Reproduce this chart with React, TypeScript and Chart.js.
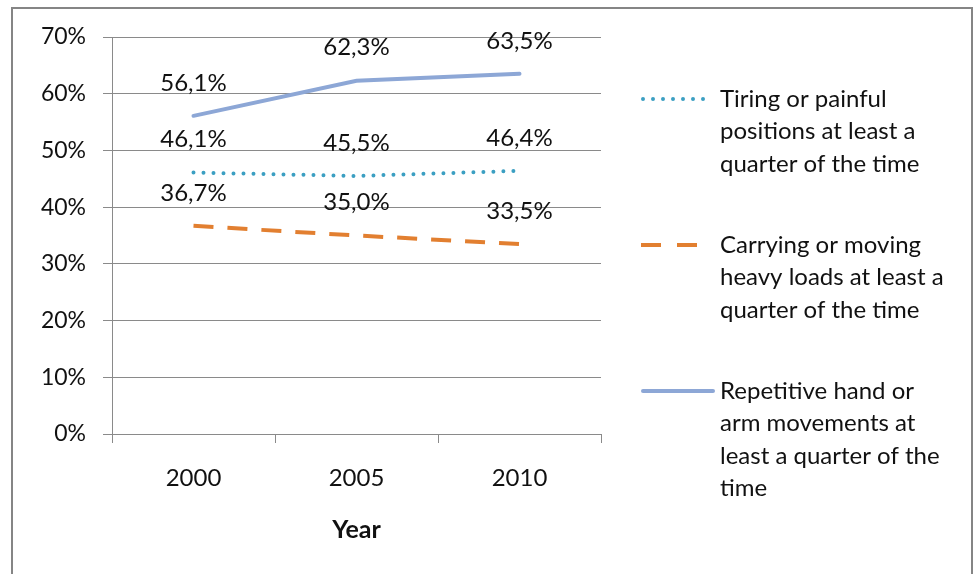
import React, { useEffect, useRef } from "react";
import { Chart, registerables } from "chart.js";

Chart.register(...registerables);

const years = ["2000", "2005", "2010"];
const tiring = [46.1, 45.5, 46.4];
const carrying = [36.7, 35.0, 33.5];
const repetitive = [56.1, 62.3, 63.5];
const yTicks = [0, 10, 20, 30, 40, 50, 60, 70];

const labelsTiring = ["Tiring or painful", "positions at least a", "quarter of the time"];
const labelsCarrying = ["Carrying or moving", "heavy loads at least a", "quarter of the time"];
const labelsRepetitive = ["Repetitive hand or", "arm movements at", "least a quarter of the", "time"];

const FONT = "Lato, 'Open Sans', sans-serif";
const TEAL = "#3b9fc2";
const ORANGE = "#e27f30";
const BLUE = "#8da7d6";
const GRID = "#8a8a8a";

const fmt = (v: number) => v.toFixed(1).replace(".", ",") + "%";

export default function App() {
  const ref = useRef<HTMLCanvasElement | null>(null);

  useEffect(() => {
    const canvas = ref.current;
    if (!canvas) return;

    const framePlugin = {
      id: "frame",
      beforeDraw(chart: any) {
        const ctx = chart.ctx;
        ctx.save();
        ctx.fillStyle = "#ffffff";
        ctx.fillRect(0, 0, chart.width, chart.height);
        ctx.strokeStyle = "#858585";
        ctx.lineWidth = 2;
        ctx.strokeRect(12, 8, 960, 600);
        ctx.restore();
      },
    };

    const dataLabelPlugin = {
      id: "dataLabels",
      afterDatasetsDraw(chart: any) {
        const ctx = chart.ctx;
        ctx.save();
        ctx.font = `24px ${FONT}`;
        ctx.fillStyle = "#111";
        ctx.textAlign = "center";
        ctx.textBaseline = "middle";
        chart.data.datasets.forEach((ds: any, i: number) => {
          const meta = chart.getDatasetMeta(i);
          meta.data.forEach((pt: any, j: number) => {
            ctx.fillText(fmt(ds.data[j]), pt.x, pt.y - 33);
          });
        });
        ctx.restore();
      },
    };

    const legendPlugin = {
      id: "customLegend",
      afterDraw(chart: any) {
        const ctx = chart.ctx;
        const items = [
          { lines: labelsTiring, color: TEAL, dash: [0, 10], cap: "round", x1: 643, x2: 708 },
          { lines: labelsCarrying, color: ORANGE, dash: [20, 16], cap: "butt", x1: 641, x2: 700 },
          { lines: labelsRepetitive, color: BLUE, dash: [], cap: "round", x1: 643, x2: 713 },
        ];
        const startY = [99, 245, 391];
        ctx.save();
        items.forEach((it, i) => {
          const y = startY[i];
          ctx.beginPath();
          ctx.strokeStyle = it.color;
          ctx.lineWidth = 4;
          ctx.lineCap = it.cap;
          ctx.setLineDash(it.dash);
          ctx.moveTo(it.x1, y);
          ctx.lineTo(it.x2, y);
          ctx.stroke();
          ctx.setLineDash([]);
          ctx.font = `24px ${FONT}`;
          ctx.fillStyle = "#111";
          ctx.textAlign = "left";
          ctx.textBaseline = "middle";
          it.lines.forEach((t, k) => {
            ctx.fillText(t, 720, y + k * 32.5);
          });
        });
        ctx.restore();
      },
    };

    const chart = new Chart(canvas, {
      type: "line",
      data: {
        labels: years,
        datasets: [
          {
            label: labelsTiring.join(" "),
            data: tiring,
            borderColor: TEAL,
            borderWidth: 4,
            borderDash: [0, 10],
            borderCapStyle: "round",
            pointRadius: 0,
            tension: 0,
          },
          {
            label: labelsCarrying.join(" "),
            data: carrying,
            borderColor: ORANGE,
            borderWidth: 4,
            borderDash: [20, 14],
            borderCapStyle: "butt",
            pointRadius: 0,
            tension: 0,
          },
          {
            label: labelsRepetitive.join(" "),
            data: repetitive,
            borderColor: BLUE,
            borderWidth: 4,
            borderCapStyle: "round",
            pointRadius: 0,
            tension: 0,
          },
        ],
      },
      options: {
        responsive: false,
        animation: false,
        layout: { padding: { top: 37, right: 375, left: 0, bottom: 0 } },
        plugins: {
          legend: { display: false },
          tooltip: { enabled: false },
          title: { display: false },
        },
        scales: {
          x: {
            type: "category",
            offset: true,
            grid: {
              offset: true,
              drawOnChartArea: false,
              drawTicks: true,
              tickLength: 9,
              color: GRID,
            },
            border: { display: true, color: GRID },
            ticks: {
              font: { family: FONT, size: 24 },
              color: "#111",
              padding: 21,
              maxRotation: 0,
            },
            title: {
              display: true,
              text: "Year",
              font: { family: FONT, size: 25, weight: "bold" },
              color: "#111",
              padding: { top: 0, bottom: 29 },
            },
            afterFit(scale: any) {
              scale.height = 140;
            },
          },
          y: {
            min: 0,
            max: 70,
            afterBuildTicks(scale: any) {
              scale.ticks = yTicks.map((v) => ({ value: v }));
            },
            grid: {
              color: GRID,
              tickLength: 9,
              drawTicks: true,
            },
            border: { display: true, color: GRID },
            ticks: {
              font: { family: FONT, size: 23 },
              color: "#111",
              padding: 17,
              callback: (v: any) => v + "%",
            },
            afterFit(scale: any) {
              scale.width = 112;
            },
          },
        },
      },
      plugins: [framePlugin, dataLabelPlugin, legendPlugin],
    });

    return () => chart.destroy();
  }, []);

  return (
    <div style={{ position: "fixed", left: 0, top: 0, width: 976, height: 574, background: "#fff" }}>
      <canvas ref={ref} width={976} height={574} style={{ display: "block" }} />
    </div>
  );
}
